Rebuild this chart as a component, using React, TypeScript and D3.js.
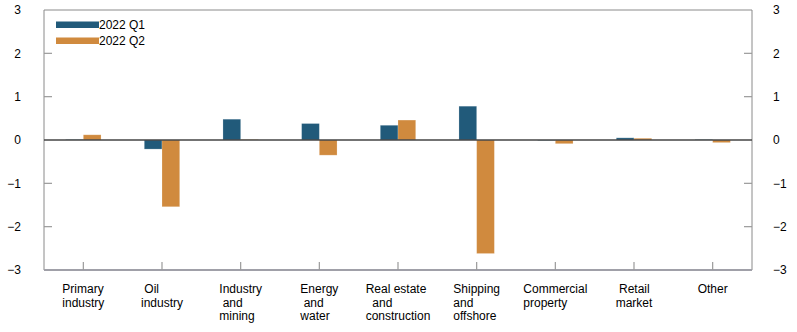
import React, { useEffect, useRef } from "react";
import * as d3 from "d3";

const categories: string[][] = [
  ["Primary", "industry"],
  [" Oil", "industry"],
  ["Industry", " and", "mining"],
  ["Energy", " and", "water"],
  ["Real estate", "  and", "construction"],
  ["Shipping", "and", "offshore"],
  ["Commercial", "property"],
  [" Retail", "market"],
  ["Other"],
];
const seriesNames = ["2022 Q1", "2022 Q2"];
const q1Values = [0.01, -0.21, 0.48, 0.38, 0.34, 0.78, -0.01, 0.05, 0.01];
const q2Values = [0.12, -1.54, 0.01, -0.35, 0.46, -2.62, -0.085, 0.04, -0.06];
const yTicks = [-3, -2, -1, 0, 1, 2, 3];
const colors = ["#215a7a", "#d08a3e"];

const W = 797, H = 332;
const M = { left: 44, right: 752, top: 10, bottom: 270 };
const FONT = "'Liberation Sans', Arial, sans-serif";

export default function App() {
  const ref = useRef<SVGSVGElement>(null);
  useEffect(() => {
    const svg = d3.select(ref.current);
    svg.selectAll("*").remove();
    const idx = categories.map((_, i) => i);
    const x = d3.scaleBand<number>().domain(idx).range([M.left, M.right]).padding(0);
    const y = d3.scaleLinear().domain([-3, 3]).range([M.bottom, M.top]);
    const barW = x.bandwidth() * 0.225;
    const sub = d3.scaleBand<number>().domain([0, 1]).range([-barW, barW]);

    // frame
    svg.append("line").attr("x1", M.left).attr("x2", M.right).attr("y1", M.top).attr("y2", M.top).attr("stroke", "#8a8a8a").attr("stroke-width", 1);
    svg.append("line").attr("x1", M.left).attr("x2", M.left).attr("y1", M.top).attr("y2", M.bottom).attr("stroke", "#8a8a8a").attr("stroke-width", 1);
    svg.append("line").attr("x1", M.right).attr("x2", M.right).attr("y1", M.top).attr("y2", M.bottom).attr("stroke", "#8a8a8a").attr("stroke-width", 1);

    // y ticks & labels
    yTicks.forEach((t) => {
      if (t !== 3 && t !== -3 && t !== 0) {
        svg.append("line").attr("x1", M.left).attr("x2", M.left + 8).attr("y1", y(t)).attr("y2", y(t)).attr("stroke", "#9a9a9a").attr("stroke-width", 1.2);
        svg.append("line").attr("x1", M.right - 8).attr("x2", M.right).attr("y1", y(t)).attr("y2", y(t)).attr("stroke", "#9a9a9a").attr("stroke-width", 1.2);
      }
      const lab = d3.format("d")(t).replace("-", "\u2212");
      svg.append("text").attr("x", 21).attr("y", y(t)).attr("dy", "0.35em").attr("text-anchor", "end")
        .attr("font-family", FONT).attr("font-size", 12).attr("fill", "#000").text(lab);
      svg.append("text").attr("x", 773).attr("y", y(t)).attr("dy", "0.35em").attr("text-anchor", "start")
        .attr("font-family", FONT).attr("font-size", 12).attr("fill", "#000").text(lab);
    });

    // bars
    const series = [q1Values, q2Values];
    series.forEach((vals, s) => {
      svg.append("g").selectAll("rect").data(vals).join("rect")
        .attr("x", (_, i) => x(i)! + x.bandwidth() / 2 + sub(s)!)
        .attr("width", sub.bandwidth())
        .attr("y", (d) => y(Math.max(0, d)))
        .attr("height", (d) => Math.abs(y(d) - y(0)))
        .attr("fill", colors[s])
        .attr("stroke", "#ffffff").attr("stroke-opacity", 0.25).attr("stroke-width", 0.8);
    });

    // zero line
    svg.append("line").attr("x1", M.left).attr("x2", M.right).attr("y1", y(0)).attr("y2", y(0)).attr("stroke", "#444").attr("stroke-width", 1.3);

    // bottom axis
    svg.append("line").attr("x1", M.left).attr("x2", M.right).attr("y1", M.bottom).attr("y2", M.bottom).attr("stroke", "#a0a0a8").attr("stroke-width", 2);
    idx.forEach((i) => {
      const cx = x(i)! + x.bandwidth() / 2;
      svg.append("line").attr("x1", cx).attr("x2", cx).attr("y1", M.bottom).attr("y2", M.bottom - 8).attr("stroke", "#9a9a9a").attr("stroke-width", 1.2);
    });

    // x labels
    idx.forEach((i) => {
      const cx = x(i)! + x.bandwidth() / 2;
      const t = svg.append("text").attr("font-family", FONT).attr("font-size", 12).attr("fill", "#000")
        .attr("xml:space", "preserve").style("white-space", "pre");
      const spans = categories[i].map((line, j) =>
        t.append("tspan").attr("y", 293 + j * 13.6).text(line)
      );
      const maxW = d3.max(spans, (sp) => (sp.node() as SVGTSpanElement).getComputedTextLength()) || 0;
      spans.forEach((sp) => sp.attr("x", cx - maxW / 2));
    });

    // legend
    seriesNames.forEach((name, s) => {
      const ly = 21.5 + s * 16;
      svg.append("rect").attr("x", 56).attr("y", ly).attr("width", 43).attr("height", 6.5).attr("fill", colors[s]);
      svg.append("text").attr("x", 99).attr("y", ly + 3.3).attr("dy", "0.35em").attr("font-family", FONT)
        .attr("font-size", 12).attr("fill", "#000").text(name);
    });
  }, []);
  return (
    <svg ref={ref} width={W} height={H} style={{ position: "absolute", left: 0, top: 0, background: "#fff" }} />
  );
}
